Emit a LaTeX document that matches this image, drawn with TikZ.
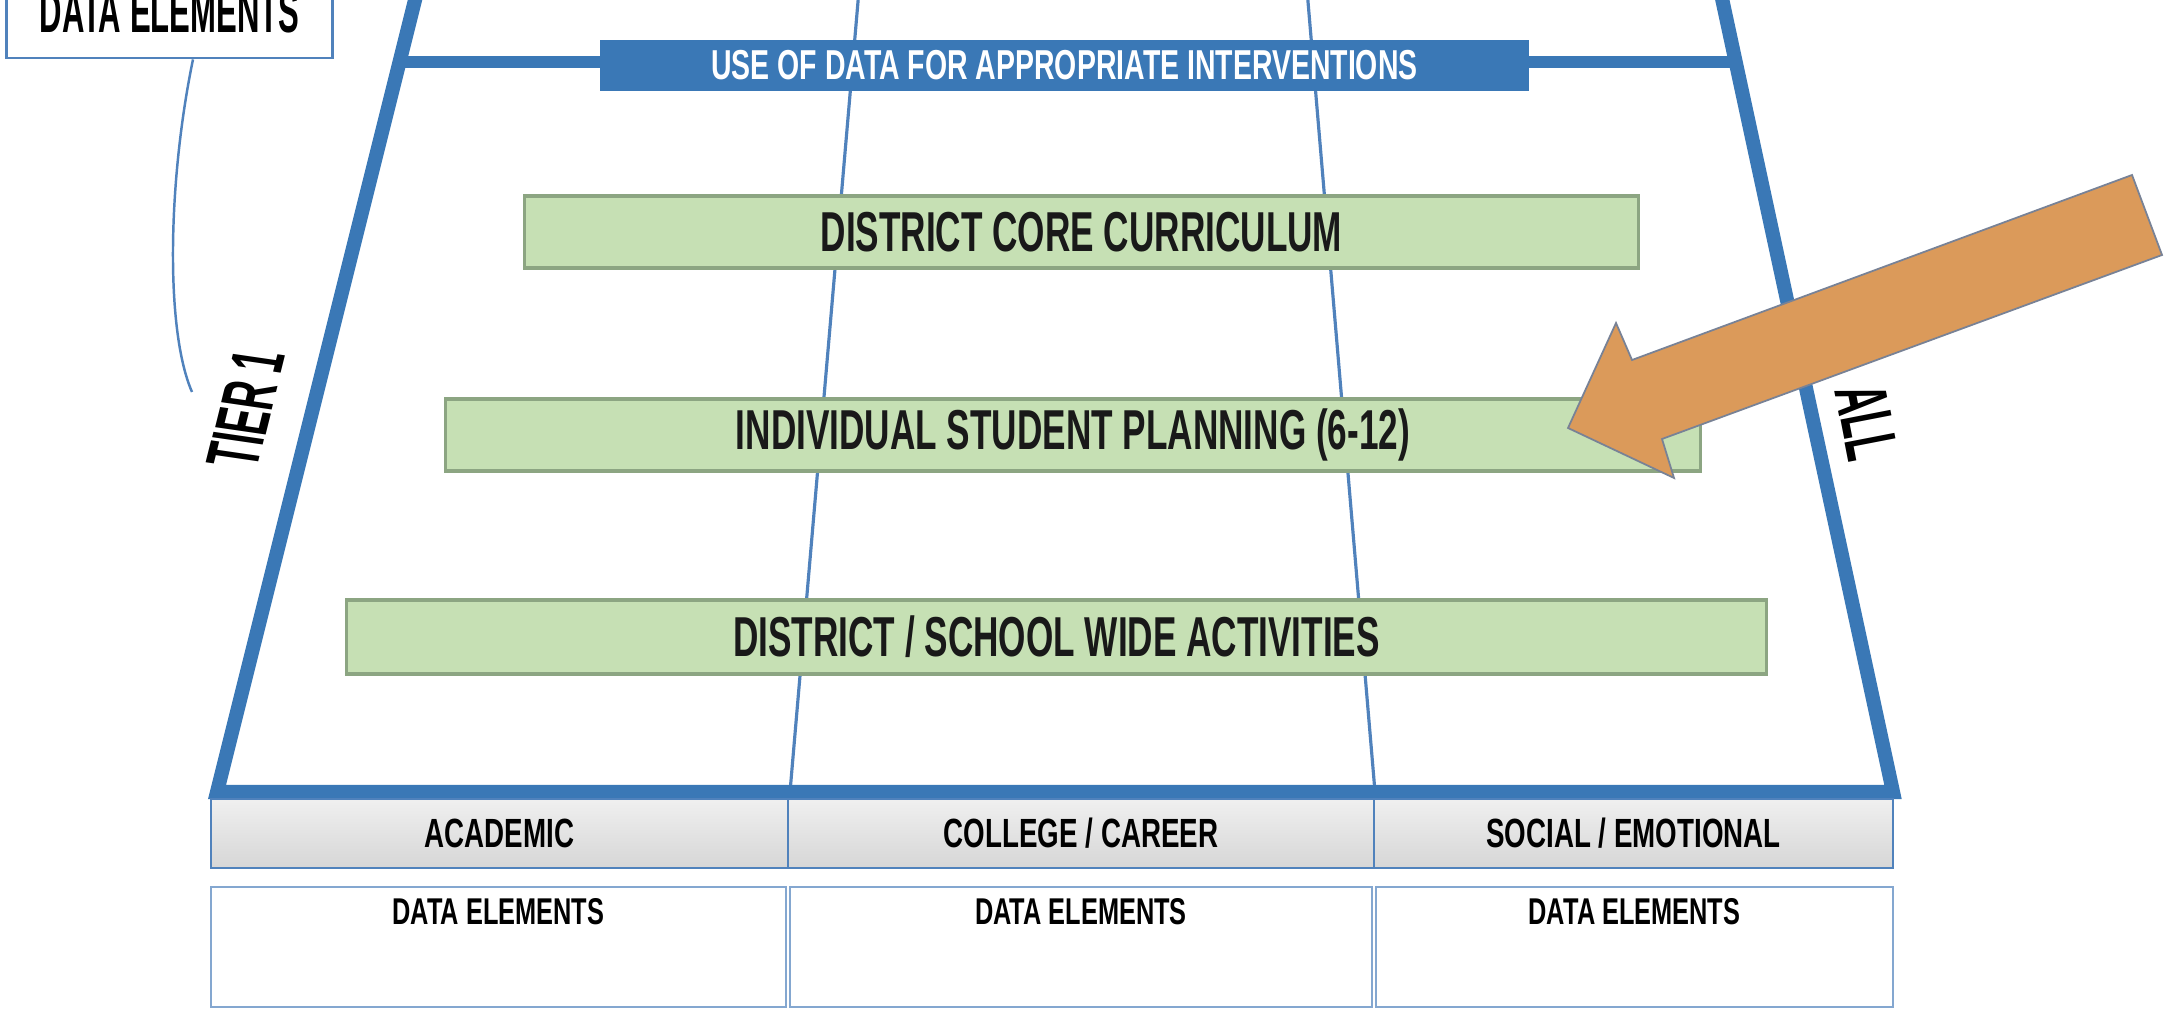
\documentclass[tikz,border=0pt]{standalone}
\usepackage{fontspec}
\newfontfamily\cond[FakeStretch=0.68]{Liberation Sans}
\newfontfamily\condg[FakeStretch=0.625]{Liberation Sans}
\newfontfamily\condt[FakeStretch=0.52]{Liberation Sans}
\usetikzlibrary{calc}
\definecolor{tblue}{RGB}{58,120,182}
\definecolor{tline}{RGB}{80,130,188}
\definecolor{gfill}{RGB}{198,224,180}
\definecolor{gline}{RGB}{140,165,130}
\definecolor{ofill}{RGB}{219,154,90}
\definecolor{oline}{RGB}{120,130,150}
\tikzset{
  greenbox/.style={draw=gline, line width=1pt, fill=gfill, minimum height=0.72cm, inner sep=0pt,
    font=\condg\bfseries\fontsize{16}{18}\selectfont, text=black!90},
  barbox/.style={fill=tblue, minimum height=0.51cm, inner sep=0pt, text=white,
    font=\cond\bfseries\fontsize{11.9}{13}\selectfont},
  headcell/.style={draw=tline, line width=0.6pt, top color=gray!12, bottom color=gray!32,
    minimum height=0.69cm, inner sep=0pt, font=\cond\bfseries\fontsize{11.6}{13}\selectfont},
  datacell/.style={draw=tline!70, line width=0.6pt, fill=white, minimum height=1.2cm, inner sep=0pt},
  datatxt/.style={font=\cond\bfseries\fontsize{10.6}{12}\selectfont, inner sep=0pt},
  sidetxt/.style={font=\condt\bfseries\fontsize{21}{23}\selectfont, inner sep=0pt},
}
\begin{document}
\begin{tikzpicture}[x=0.01cm,y=-0.01cm]
\fill[white] (0,0) rectangle (2167,1010);
\useasboundingbox (0,0) rectangle (2167,1010);

% top-left data elements box
\node[draw=tline, line width=0.8pt, fill=white, minimum width=3.25cm, minimum height=1.06cm, inner sep=0pt] (de) at (169.5,5) {};
\node[font=\condt\bfseries\fontsize{17}{19}\selectfont, anchor=base, inner sep=0pt] (detxt) at (169.5,33) {DATA ELEMENTS};
\coordinate (cs) at (193,58);
\coordinate (ce) at (192,392);
\draw[tline, line width=0.7pt] (de.south -| cs) .. controls (168,180) and (165,330) .. (ce);

% column dividers
\draw[tline, line width=0.9pt] (859,-10) -- (790,792);
\draw[tline, line width=0.9pt] (1307,-10) -- (1375,792);

% trapezoid
\draw[tblue, line width=4pt, line join=miter] (420,-20) -- (217,792) -- (1893,792) -- (1718,-20);
\draw[tblue, line width=3.6pt] (400,62) -- (1735,62);

% bar
\node[barbox, minimum width=9.29cm] (bar) at (1064.5,65.5) {USE OF DATA FOR APPROPRIATE INTERVENTIONS};

% green boxes
\node[greenbox, minimum width=11.13cm] (g1) at (1081.5,232) {DISTRICT CORE CURRICULUM};
\node[greenbox, minimum width=12.54cm] (g2) at (1073,435) {INDIVIDUAL STUDENT PLANNING (6-12)};
\node[greenbox, minimum width=14.19cm, minimum height=0.74cm] (g3) at (1056.5,637) {DISTRICT / SCHOOL WIDE ACTIVITIES};

% side labels
\node[sidetxt, rotate=76, xslant=-0.1] (tier) at (246,409) {TIER 1};
\node[sidetxt, rotate=-79] (all) at (1867,422) {ALL};

% header row
\node[headcell, minimum width=5.77cm] (h1) at (499.5,833.5) {ACADEMIC};
\node[headcell, minimum width=5.86cm] (h2) at (1081,833.5) {COLLEGE / CAREER};
\node[headcell, minimum width=5.19cm] (h3) at (1633.5,833.5) {SOCIAL / EMOTIONAL};

% data row
\node[datacell, minimum width=5.75cm] (d1) at (498.5,947) {};
\node[datacell, minimum width=5.82cm] (d2) at (1081,947) {};
\node[datacell, minimum width=5.17cm] (d3) at (1634.5,947) {};
\node[datatxt] (t1) at ([yshift=-0.26cm]d1.north) {DATA ELEMENTS};
\node[datatxt] (t2) at ([yshift=-0.26cm]d2.north) {DATA ELEMENTS};
\node[datatxt] (t3) at ([yshift=-0.26cm]d3.north) {DATA ELEMENTS};

% orange arrow
\filldraw[fill=ofill, draw=oline, line width=0.5pt, line join=miter]
  (2132,175) -- (2162,255) -- (1662,439) -- (1674,478) -- (1568,428) -- (1616,323) -- (1632,360) -- cycle;
\end{tikzpicture}
\end{document}
